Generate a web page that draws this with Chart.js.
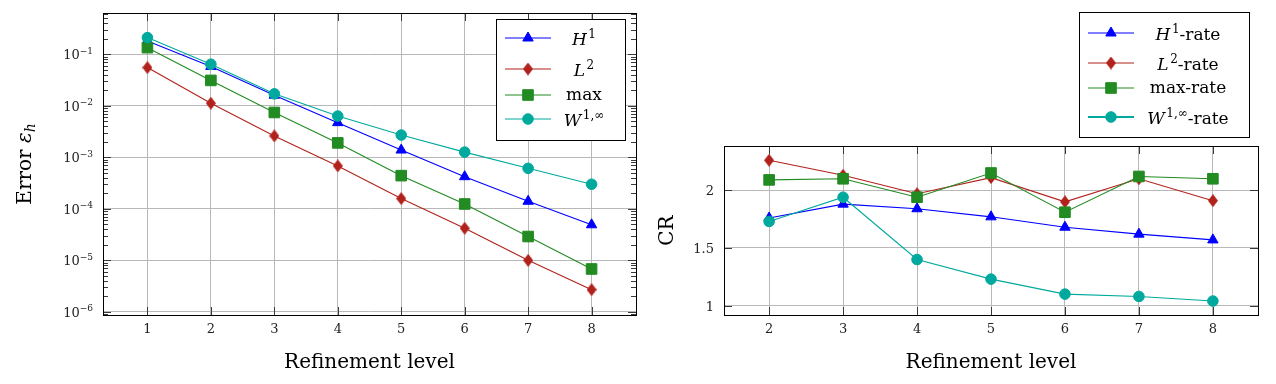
<!DOCTYPE html>
<html>
<head>
<meta charset="utf-8">
<script src="https://cdn.jsdelivr.net/npm/chart.js@4"></script>
<style>
  html, body { margin: 0; padding: 0; background: #fff; }
  #wrap { position: relative; width: 1276px; height: 384px; }
  #errChart { position: absolute; left: 0; top: 0; }
  #rateChart { position: absolute; left: 640px; top: 0; }
</style>
</head>
<body>
<div id="wrap">
  <canvas id="errChart" width="640" height="384"></canvas>
  <canvas id="rateChart" width="636" height="384"></canvas>
</div>
<script>
// refinement levels
const levels = [1, 2, 3, 4, 5, 6, 7, 8]
const rateLevels = [2, 3, 4, 5, 6, 7, 8]

// errors (left plot)
const errH1 = [0.18, 0.058, 0.016, 0.0047, 0.00138, 4.2e-4, 1.4e-4, 4.9e-5]
const errL2 = [0.055, 0.0112, 0.0026, 6.8e-4, 1.58e-4, 4.2e-5, 1.0e-5, 2.7e-6]
const errMax = [0.134, 0.031, 0.0074, 0.0019, 4.4e-4, 1.24e-4, 2.9e-5, 6.8e-6]
const errW = [0.21, 0.064, 0.017, 0.0063, 0.0027, 0.00126, 6.1e-4, 3.0e-4]

// convergence rates (right plot)
const rateH1 = [1.76, 1.88, 1.84, 1.77, 1.68, 1.62, 1.57]
const rateL2 = [2.26, 2.13, 1.97, 2.11, 1.90, 2.10, 1.91]
const rateMax = [2.09, 2.10, 1.94, 2.15, 1.81, 2.12, 2.10]
const rateW = [1.73, 1.94, 1.40, 1.23, 1.10, 1.08, 1.04]

// ticks
const errTicks = [1e-6, 1e-5, 1e-4, 1e-3, 1e-2, 1e-1]
const errTickLabels = ["10^{−6}", "10^{−5}", "10^{−4}", "10^{−3}", "10^{−2}", "10^{−1}"]
const rateTicks = [1, 1.5, 2]
const rateTickLabels = ["1", "1.5", "2"]

// legend labels (*x* = italic, ^{..} = superscript, _{..} = subscript)
const errLabels = ["*H*^{1}", "*L*^{2}", "max", "*W*^{1,∞}"]
const rateLabels = ["*H*^{1}-rate", "*L*^{2}-rate", "max-rate", "*W*^{1,∞}-rate"]

const SERIF = '"DejaVu Serif", "Liberation Serif", serif'
const colors = ["#0000ff", "#b2221c", "#228b22", "#00a99d"]

// tall diamond like pgfplots diamond*
function diamond(color) {
  const c = document.createElement("canvas")
  c.width = 10
  c.height = 13
  const g = c.getContext("2d")
  g.fillStyle = color
  g.beginPath()
  g.moveTo(5, 0); g.lineTo(10, 6.5); g.lineTo(5, 13); g.lineTo(0, 6.5)
  g.closePath()
  g.fill()
  return c
}

const styles = [
  { pointStyle: "triangle", pointRadius: 6 },
  { pointStyle: diamond(colors[1]), pointRadius: 6 },
  { pointStyle: "rect", pointRadius: 7.5 },
  { pointStyle: "circle", pointRadius: 5.3 }
]

function parseRich(s) {
  const out = []
  const re = /\*([^*]+)\*|\^\{([^}]*)\}|_\{([^}]*)\}|([^*^_]+)/g
  let m
  while ((m = re.exec(s))) {
    if (m[1]) out.push({ t: m[1], it: true, shift: 0 })
    else if (m[2] !== undefined) out.push({ t: m[2], it: false, shift: -1 })
    else if (m[3] !== undefined) out.push({ t: m[3], it: true, shift: 1 })
    else out.push({ t: m[4], it: false, shift: 0 })
  }
  return out
}

function drawRich(ctx, s, x, y, size, align) {
  const parts = parseRich(s)
  const fontOf = p => (p.it ? "italic " : "") + (p.shift ? Math.round(size * 0.7) : size) + "px " + SERIF
  let w = 0
  parts.forEach((p, i) => {
    ctx.font = fontOf(p)
    p.w = ctx.measureText(p.t).width
    if (p.it && !p.shift && parts[i + 1] && parts[i + 1].shift < 0) p.w += 1.5
    w += p.w
  })
  let cx = align === "center" ? x - w / 2 : align === "right" ? x - w : x
  ctx.textAlign = "left"
  ctx.textBaseline = "alphabetic"
  parts.forEach(p => {
    ctx.font = fontOf(p)
    const dy = p.shift < 0 ? -size * 0.42 : p.shift > 0 ? size * 0.22 : 0
    ctx.fillText(p.t, cx, y + dy)
    cx += p.w
  })
}

// frame, inward ticks, y tick labels, legend box and axis titles, pgfplots-like
const framePlugin = {
  id: "frame",
  afterDraw(chart, args, opts) {
    const { ctx, chartArea: a, scales } = chart
    const xs = scales.x, ys = scales.y
    ctx.save()
    ctx.strokeStyle = "#3a3a3a"
    ctx.lineWidth = 1
    ctx.beginPath()
    xs.ticks.forEach(t => {
      const px = Math.round(xs.getPixelForValue(t.value)) + 0.5
      ctx.moveTo(px, a.top); ctx.lineTo(px, a.top + 8)
      ctx.moveTo(px, a.bottom); ctx.lineTo(px, a.bottom - 8)
    })
    ys.ticks.forEach(t => {
      const py = Math.round(ys.getPixelForValue(t.value)) + 0.5
      ctx.moveTo(a.left, py); ctx.lineTo(a.left + 8, py)
      ctx.moveTo(a.right, py); ctx.lineTo(a.right - 8, py)
    })
    if (opts.minorLog) {
      const k0 = Math.floor(Math.log10(ys.min)), k1 = Math.ceil(Math.log10(ys.max))
      for (let k = k0; k <= k1; k++) {
        for (let m = 2; m <= 9; m++) {
          const v = m * Math.pow(10, k)
          if (v < ys.min || v > ys.max) continue
          const py = Math.round(ys.getPixelForValue(v)) + 0.5
          ctx.moveTo(a.left, py); ctx.lineTo(a.left + 5, py)
          ctx.moveTo(a.right, py); ctx.lineTo(a.right - 5, py)
        }
      }
    }
    ctx.stroke()
    ctx.strokeStyle = "#000"
    ctx.strokeRect(Math.round(a.left) + 0.5, Math.round(a.top) + 0.5, Math.round(a.right - a.left), Math.round(a.bottom - a.top))

    // y tick labels
    ctx.fillStyle = "#222"
    ys.ticks.forEach((t, i) => {
      const py = ys.getPixelForValue(t.value)
      drawRich(ctx, opts.yLabels[i], a.left - 10, py + 5, 13, "right")
    })

    // legend
    const lg = opts.legend
    ctx.fillStyle = "#fff"
    ctx.fillRect(lg.x, lg.y, lg.w, lg.h)
    ctx.strokeStyle = "#000"
    ctx.strokeRect(lg.x + 0.5, lg.y + 0.5, lg.w, lg.h)
    chart.data.datasets.forEach((ds, i) => {
      const ry = lg.y + lg.rows[i]
      ctx.strokeStyle = ds.borderColor
      ctx.lineWidth = ds.legendLineWidth || 1
      ctx.beginPath()
      ctx.moveTo(lg.x0, ry); ctx.lineTo(lg.x1, ry)
      ctx.stroke()
      ctx.fillStyle = ds.borderColor
      ctx.lineWidth = 1
      Chart.helpers.drawPoint(ctx, { pointStyle: ds.pointStyle, radius: ds.pointRadius, rotation: 0, borderWidth: 1 }, (lg.x0 + lg.x1) / 2, ry)
      ctx.fillStyle = "#000"
      const hasSup = ds.label.indexOf("^") >= 0
      drawRich(ctx, ds.label, lg.tx, ry + (hasSup ? 0.4 : 0.27) * lg.size, lg.size, "center")
    })

    // axis titles
    ctx.fillStyle = "#000"
    drawRich(ctx, opts.xTitle, (a.left + a.right) / 2, a.bottom + 53, 20, "center")
    ctx.translate(opts.yTitleX, (a.top + a.bottom) / 2)
    ctx.rotate(-Math.PI / 2)
    drawRich(ctx, opts.yTitle, 0, 0, 20, "center")
    ctx.restore()
  }
}

function makeDatasets(labels, series, xs) {
  return series.map((vals, i) => ({
    label: labels[i],
    data: vals.map((v, j) => ({ x: xs[j], y: v })),
    borderColor: colors[i],
    backgroundColor: colors[i],
    pointBorderColor: colors[i],
    pointBackgroundColor: colors[i],
    borderWidth: 1.1,
    pointBorderWidth: 1,
    pointStyle: styles[i].pointStyle,
    pointRadius: styles[i].pointRadius,
    tension: 0,
    order: 4 - i,
    legendLineWidth: 1.1
  }))
}

const tickFont = { family: SERIF, size: 13 }
const gridColor = "#b8b8b8"

function axisX(min, max, ticks) {
  return {
    type: "linear",
    min: min,
    max: max,
    afterBuildTicks: s => { s.ticks = ticks.map(v => ({ value: v })) },
    afterFit: s => { s.height = 69 },
    ticks: { color: "#222", font: tickFont, padding: 7, maxRotation: 0, autoSkip: false, callback: v => String(v) },
    grid: { color: gridColor, drawTicks: false },
    border: { display: false }
  }
}

function axisY(type, min, max, ticks, width) {
  return {
    type: type,
    min: min,
    max: max,
    afterBuildTicks: s => { s.ticks = ticks.map(v => ({ value: v })) },
    afterFit: s => { s.width = width },
    ticks: { display: false },
    grid: { color: gridColor, drawTicks: false },
    border: { display: false }
  }
}

// left: errors, log scale
const errDatasets = makeDatasets(errLabels, [errH1, errL2, errMax, errW], levels)
new Chart(document.getElementById("errChart"), {
  type: "line",
  data: { datasets: errDatasets },
  options: {
    responsive: false,
    animation: false,
    layout: { autoPadding: false, padding: { left: 0, top: 13, right: 4, bottom: 0 } },
    plugins: {
      legend: { display: false },
      tooltip: { enabled: false },
      frame: {
        minorLog: true,
        yLabels: errTickLabels,
        xTitle: "Refinement level",
        yTitle: "Error *ε*_{h}",
        yTitleX: 31,
        legend: { x: 496, y: 19, w: 129, h: 121, rows: [19, 50, 76, 100], x0: 505, x1: 551, tx: 584, size: 17 }
      }
    },
    scales: {
      x: axisX(0.3, 8.7, levels),
      y: axisY("logarithmic", 8.7e-7, 0.63, errTicks, 103)
    }
  },
  plugins: [framePlugin]
})

// right: convergence rates
const rateDatasets = makeDatasets(rateLabels, [rateH1, rateL2, rateMax, rateW], rateLevels)
rateDatasets[3].legendLineWidth = 2
new Chart(document.getElementById("rateChart"), {
  type: "line",
  data: { datasets: rateDatasets },
  options: {
    responsive: false,
    animation: false,
    layout: { autoPadding: false, padding: { left: 0, top: 146, right: 18, bottom: 0 } },
    plugins: {
      legend: { display: false },
      tooltip: { enabled: false },
      frame: {
        minorLog: false,
        yLabels: rateTickLabels,
        xTitle: "Refinement level",
        yTitle: "CR",
        yTitleX: 33,
        legend: { x: 439, y: 12, w: 170, h: 125, rows: [21, 51, 76, 105], x0: 448, x1: 494, tx: 548, size: 17 }
      }
    },
    scales: {
      x: axisX(1.39, 8.61, rateLevels),
      y: axisY("linear", 0.919, 2.384, rateTicks, 84)
    }
  },
  plugins: [framePlugin]
})
</script>
</body>
</html>
